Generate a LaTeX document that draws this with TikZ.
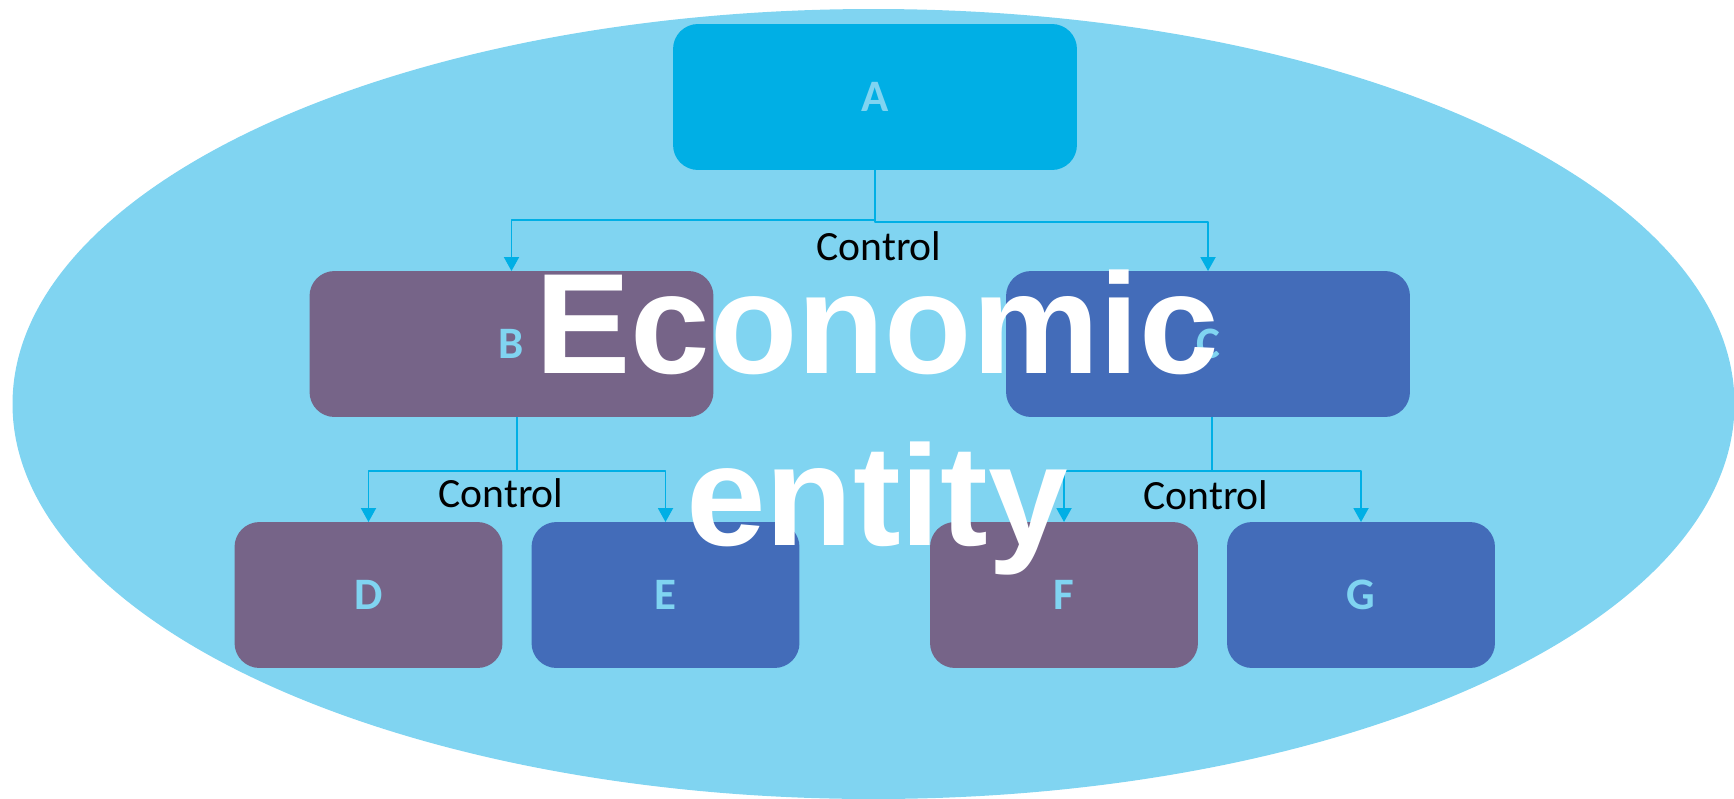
\documentclass[tikz,border=0pt]{standalone}
\usepackage{fontspec}
\setsansfont{Carlito}
\newfontfamily\titlefont{Liberation Sans}
\usetikzlibrary{arrows.meta,positioning}
\definecolor{orgSky}{HTML}{80D4F1}
\definecolor{orgCyan}{HTML}{00AFE5}
\definecolor{orgPlum}{HTML}{766488}
\definecolor{orgBlue}{HTML}{436CB9}
\definecolor{orgTag}{HTML}{80D4F1}
\tikzset{
  org diagram/.style={x=0.02cm, y=-0.02cm, font=\sffamily, line join=round},
  org box/.style={rounded corners=0.5cm, inner sep=0pt, outer sep=0pt,
    minimum height=2.92cm, text=orgTag,
    font=\sffamily\bfseries\fontsize{25.6}{30}\selectfont},
  org wide box/.style={org box, minimum width=8.08cm},
  org small box/.style={org box, minimum width=5.36cm},
  org arrow/.style={-{Triangle[width=0.3cm,length=0.28cm]}, draw=orgCyan,
    line width=1.1pt},
  org label/.style={font=\sffamily\fontsize{23.7}{28}\selectfont, text=black,
    anchor=base, inner sep=0pt},
  org title/.style={text=white, align=center, inner sep=0pt,
    font=\titlefont\bfseries\fontsize{81.4}{97.9}\selectfont}
}

\begin{document}
\begin{tikzpicture}[org diagram]
\useasboundingbox (0,0) rectangle (1734,798);
\fill[orgSky] (873.5,404) ellipse [x radius=861, y radius=395];

% parent and subsidiaries
\node[org wide box, fill=orgCyan] (A) at (875,97) {A};
\node[org wide box, fill=orgPlum] (B) at (511.5,344) {B};
\node[org wide box, fill=orgBlue] (C) at (1208,344) {C};
\node[org small box, fill=orgPlum] (D) at (368.5,595) {D};
\node[org small box, fill=orgBlue] (E) at (665.5,595) {E};
\node[org small box, fill=orgPlum] (F) at (1064,595) {F};
\node[org small box, fill=orgBlue] (G) at (1361,595) {G};

% control links
\draw[org arrow] (A.south) -- ++(0,50) -| (B.north);
\draw[org arrow] (A.south) -- ++(0,52) -| (C.north);
\draw[org arrow] ([xshift=0.11cm]B.south) -- ++(0,54) -| (D.north);
\draw[org arrow] ([xshift=0.11cm]B.south) -- ++(0,54) -| (E.north);
\draw[org arrow] ([xshift=0.08cm]C.south) -- ++(0,54) -| (F.north);
\draw[org arrow] ([xshift=0.08cm]C.south) -- ++(0,54) -| (G.north);
\node[org label] (ctrlA) at (879,260) {Control};
\node[org label] (ctrlB) at (501,507) {Control};
\node[org label] (ctrlC) at (1206,509) {Control};

\node[org title] (entity) at (877,423) {Economic\\entity};
\end{tikzpicture}
\end{document}
